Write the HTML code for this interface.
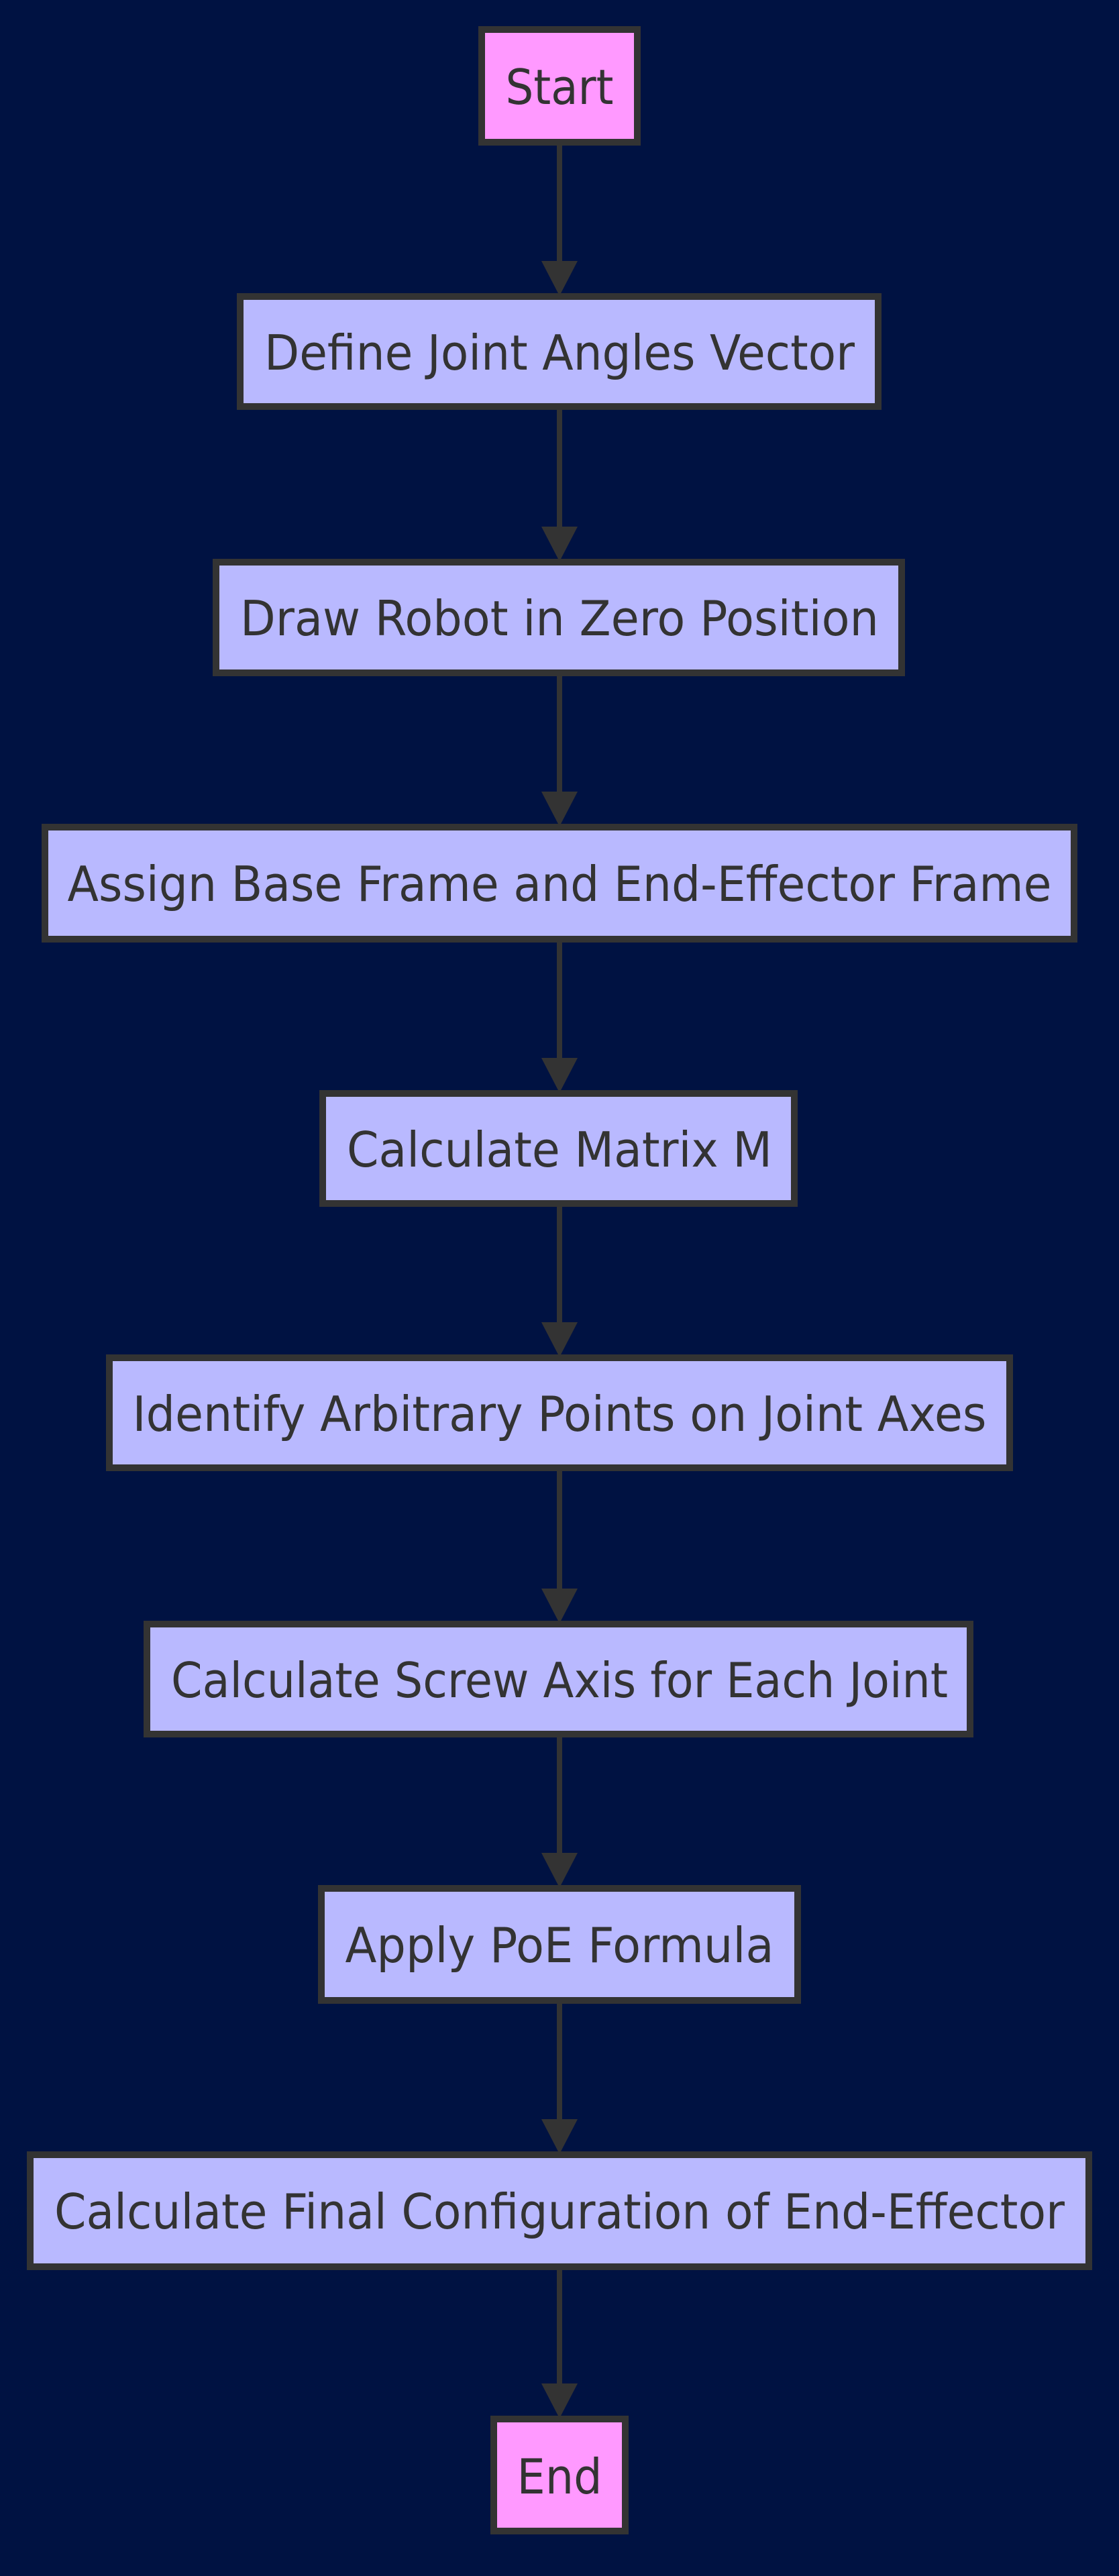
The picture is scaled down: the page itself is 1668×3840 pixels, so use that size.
<!DOCTYPE html>
<html><head><style>html,body{margin:0;padding:0;background:#001242;}svg{display:block}</style></head>
<body>
<svg width="1668" height="3840" viewBox="0 0 1668 3840" xmlns="http://www.w3.org/2000/svg">
<rect width="1668" height="3840" fill="#001242"/>
<g stroke="#333" stroke-width="8" fill="none">
<line x1="834" y1="213" x2="834" y2="395"/>
<line x1="834" y1="607" x2="834" y2="791"/>
<line x1="834" y1="1004" x2="834" y2="1186"/>
<line x1="834" y1="1401" x2="834" y2="1583"/>
<line x1="834" y1="1795" x2="834" y2="1977"/>
<line x1="834" y1="2189" x2="834" y2="2374"/>
<line x1="834" y1="2586" x2="834" y2="2768"/>
<line x1="834" y1="2983" x2="834" y2="3165"/>
<line x1="834" y1="3380" x2="834" y2="3559"/>
</g>
<g fill="#333">
<polygon points="807,389 861,389 834,441"/>
<polygon points="807,785 861,785 834,837"/>
<polygon points="807,1180 861,1180 834,1232"/>
<polygon points="807,1577 861,1577 834,1629"/>
<polygon points="807,1971 861,1971 834,2023"/>
<polygon points="807,2368 861,2368 834,2420"/>
<polygon points="807,2762 861,2762 834,2814"/>
<polygon points="807,3159 861,3159 834,3211"/>
<polygon points="807,3553 861,3553 834,3605"/>
</g>
<g stroke="#333" stroke-width="10">
<rect x="718" y="44" width="232" height="168" fill="#ff99ff"/>
<rect x="358" y="442" width="951" height="164" fill="#b9b9ff"/>
<rect x="322" y="838" width="1022" height="165" fill="#b9b9ff"/>
<rect x="67" y="1233" width="1534" height="167" fill="#b9b9ff"/>
<rect x="481" y="1630" width="703" height="164" fill="#b9b9ff"/>
<rect x="163" y="2024" width="1342" height="164" fill="#b9b9ff"/>
<rect x="219" y="2421" width="1227" height="164" fill="#b9b9ff"/>
<rect x="479" y="2815" width="710" height="167" fill="#b9b9ff"/>
<rect x="45" y="3212" width="1578" height="167" fill="#b9b9ff"/>
<rect x="736" y="3606" width="196" height="167" fill="#ff99ff"/>
</g>
<g fill="#333" font-family="'DejaVu Sans','Liberation Sans',sans-serif" font-size="72" text-anchor="middle" dominant-baseline="central">
<text x="834" y="130" textLength="161" lengthAdjust="spacingAndGlyphs">Start</text>
<text x="834" y="526" textLength="880" lengthAdjust="spacingAndGlyphs">Define Joint Angles Vector</text>
<text x="834" y="922" textLength="952" lengthAdjust="spacingAndGlyphs">Draw Robot in Zero Position</text>
<text x="834" y="1318" textLength="1467" lengthAdjust="spacingAndGlyphs">Assign Base Frame and End-Effector Frame</text>
<text x="834" y="1714" textLength="634" lengthAdjust="spacingAndGlyphs">Calculate Matrix M</text>
<text x="834" y="2108" textLength="1273" lengthAdjust="spacingAndGlyphs">Identify Arbitrary Points on Joint Axes</text>
<text x="834" y="2505" textLength="1158" lengthAdjust="spacingAndGlyphs">Calculate Screw Axis for Each Joint</text>
<text x="834" y="2900" textLength="639" lengthAdjust="spacingAndGlyphs">Apply PoE Formula</text>
<text x="834" y="3297" textLength="1506" lengthAdjust="spacingAndGlyphs">Calculate Final Configuration of End-Effector</text>
<text x="834" y="3692" textLength="127" lengthAdjust="spacingAndGlyphs">End</text>
</g>
</svg>
</body></html>
